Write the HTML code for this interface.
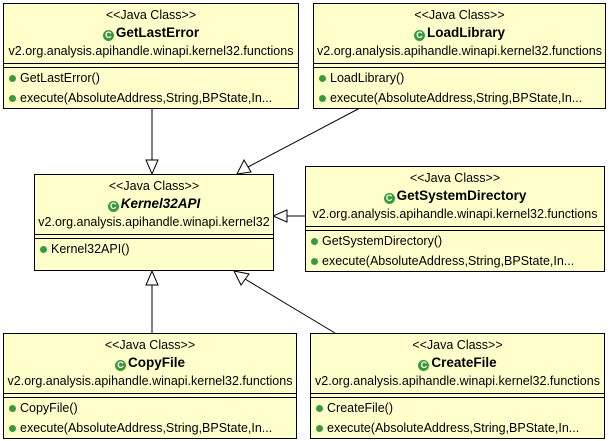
<!DOCTYPE html>
<html><head><style>
body{margin:0;width:609px;height:441px;background:#fff;font-family:"Liberation Sans",sans-serif;font-size:12.5px;position:relative;overflow:hidden}
.b{position:absolute;background:#ffffcc;border:1px solid #000;box-sizing:border-box;color:#000}
.c{text-align:center;white-space:nowrap;line-height:18px}
.n{font-weight:bold;font-size:13.5px}
.sep{border-top:1px solid #000;height:3px;border-bottom:1px solid #000;margin-top:3px}
.m{padding-left:5px;line-height:20px;white-space:nowrap}
.ic{display:inline-block;width:11px;height:11px;border-radius:50%;background:#3a9a3a;color:#fff;font-size:9px;font-weight:bold;text-align:center;line-height:11px;vertical-align:-1px;margin-right:2px}
.d{display:inline-block;width:7px;height:7px;border-radius:50%;background:#3a9a3a;margin-right:4px;vertical-align:0}
</style></head><body>
<svg width="609" height="441" style="position:absolute;left:0;top:0">
<g stroke="#000" fill="#fff">
<line x1="152" y1="108" x2="152" y2="160"/><polygon points="146,160 158,160 152,174"/>
<line x1="360" y1="108" x2="248" y2="167"/><polygon points="244,160 251,172 237,174"/>
<line x1="305" y1="216" x2="287" y2="216"/><polygon points="287,210 287,222 273,216"/>
<line x1="152" y1="333" x2="152" y2="285"/><polygon points="146,285 158,285 152,271"/>
<line x1="335" y1="333" x2="245" y2="279"/><polygon points="241,285 249,274 234,271"/>
</g></svg>
<div class="b" style="left:3px;top:3px;width:296px;height:106px"><div class="c" style="margin-top:2px">&lt;&lt;Java Class&gt;&gt;</div><div class="c n"><span class="ic">C</span>GetLastError</div><div class="c">v2.org.analysis.apihandle.winapi.kernel32.functions</div><div class="sep"></div><div class="m"><span class="d"></span>GetLastError()</div><div class="m"><span class="d"></span>execute(AbsoluteAddress,String,BPState,In...</div></div>
<div class="b" style="left:313px;top:3px;width:293px;height:106px"><div class="c" style="margin-top:2px">&lt;&lt;Java Class&gt;&gt;</div><div class="c n"><span class="ic">C</span>LoadLibrary</div><div class="c">v2.org.analysis.apihandle.winapi.kernel32.functions</div><div class="sep"></div><div class="m"><span class="d"></span>LoadLibrary()</div><div class="m"><span class="d"></span>execute(AbsoluteAddress,String,BPState,In...</div></div>
<div class="b" style="left:34px;top:174px;width:240px;height:97px"><div class="c" style="margin-top:2px">&lt;&lt;Java Class&gt;&gt;</div><div class="c n"><span class="ic">C</span><i>Kernel32API</i></div><div class="c">v2.org.analysis.apihandle.winapi.kernel32</div><div class="sep"></div><div class="m"><span class="d"></span>Kernel32API()</div></div>
<div class="b" style="left:305px;top:166px;width:300px;height:106px"><div class="c" style="margin-top:2px">&lt;&lt;Java Class&gt;&gt;</div><div class="c n"><span class="ic">C</span>GetSystemDirectory</div><div class="c">v2.org.analysis.apihandle.winapi.kernel32.functions</div><div class="sep"></div><div class="m"><span class="d"></span>GetSystemDirectory()</div><div class="m"><span class="d"></span>execute(AbsoluteAddress,String,BPState,In...</div></div>
<div class="b" style="left:3px;top:333px;width:294px;height:106px"><div class="c" style="margin-top:2px">&lt;&lt;Java Class&gt;&gt;</div><div class="c n"><span class="ic">C</span>CopyFile</div><div class="c">v2.org.analysis.apihandle.winapi.kernel32.functions</div><div class="sep"></div><div class="m"><span class="d"></span>CopyFile()</div><div class="m"><span class="d"></span>execute(AbsoluteAddress,String,BPState,In...</div></div>
<div class="b" style="left:310px;top:333px;width:295px;height:106px"><div class="c" style="margin-top:2px">&lt;&lt;Java Class&gt;&gt;</div><div class="c n"><span class="ic">C</span>CreateFile</div><div class="c">v2.org.analysis.apihandle.winapi.kernel32.functions</div><div class="sep"></div><div class="m"><span class="d"></span>CreateFile()</div><div class="m"><span class="d"></span>execute(AbsoluteAddress,String,BPState,In...</div></div>
</body></html>
